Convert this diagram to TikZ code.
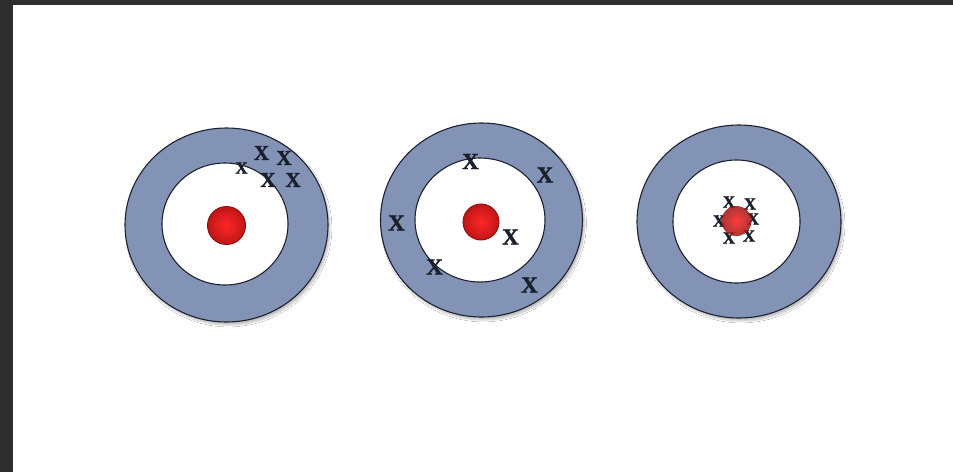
\documentclass[tikz,border=0pt]{standalone}
\usepackage{fontspec}
\setmainfont{Liberation Serif}
\newfontfamily\heavyx{Liberation Serif Bold}[FakeBold=1.5]
\usetikzlibrary{shadows.blur}
\definecolor{frame}{HTML}{2D2D2D}
\definecolor{ringblue}{HTML}{8393B6}
\definecolor{ringline}{HTML}{1E2230}
\definecolor{markcol}{HTML}{1A1F2C}
\definecolor{dotred}{HTML}{E01A1A}
\definecolor{dotdark}{HTML}{8A0E0E}
\tikzset{
  ring/.style={fill=ringblue, draw=ringline, line width=1.1pt,
    blur shadow={shadow xshift=2pt, shadow yshift=-3pt, shadow blur steps=8, shadow opacity=25}},
  hole/.style={fill=white, draw=ringline, line width=1.1pt},
  bull/.style={circle, draw=dotdark, line width=0.9pt, inner color=red!85!white, outer color=dotred!85!black, minimum size=#1, inner sep=0pt},
  xmark/.style={text=markcol, inner sep=0pt, font=\fontsize{23}{23}\selectfont\heavyx},
  midmark/.style={text=markcol, inner sep=0pt, font=\fontsize{21}{21}\selectfont\heavyx},
  smallmark/.style={text=markcol, inner sep=0pt, font=\fontsize{17}{17}\selectfont\heavyx},
}
\begin{document}
\begin{tikzpicture}[x=1pt,y=-1pt]
\useasboundingbox (0,0) rectangle (953,472);
\fill[frame] (0,0) rectangle (953,472);
\fill[white] (13,5) rectangle (953,472);
% target 1
\draw[ring] (226.5,225) ellipse [x radius=101.5, y radius=97];
\draw[hole] (225,224) ellipse [x radius=63, y radius=61];
\node[bull=38pt] (b1) at (226.5,225.5) {};
\node[smallmark] (a1) at (241.5,168) {X};
\node[midmark] (a2) at (261.5,153) {X};
\node[midmark] (a3) at (284,158) {X};
\node[midmark] (a4) at (268,180) {X};
\node[midmark] (a5) at (293,180) {X};
% target 2
\draw[ring] (481.5,220) ellipse [x radius=101, y radius=97];
\draw[hole] (480,220) ellipse [x radius=65, y radius=62];
\node[bull=36pt] (b2) at (481,222) {};
\node[xmark] (c1) at (470.5,161.5) {X};
\node[xmark] (c2) at (545,175) {X};
\node[xmark] (c3) at (396.5,223) {X};
\node[xmark] (c4) at (510.5,237) {X};
\node[xmark] (c5) at (434.5,267) {X};
\node[xmark] (c6) at (529.5,285) {X};
% target 3
\draw[ring] (739,221.5) ellipse [x radius=102, y radius=96.5];
\draw[hole] (736.5,221.5) ellipse [x radius=63.5, y radius=61.5];
\node[smallmark] (d1) at (729,202) {X};
\node[smallmark] (d2) at (750,204) {X};
\node[smallmark] (d3) at (719,221) {X};
\node[smallmark] (d4) at (753,219) {X};
\node[smallmark] (d5) at (729,238) {X};
\node[smallmark] (d6) at (749,236) {X};
\node[circle, inner sep=0pt, minimum size=30pt, opacity=0.85, inner color=red!90!white, outer color=dotred!70!black] (b3) at (736.5,221) {};
\end{tikzpicture}
\end{document}
